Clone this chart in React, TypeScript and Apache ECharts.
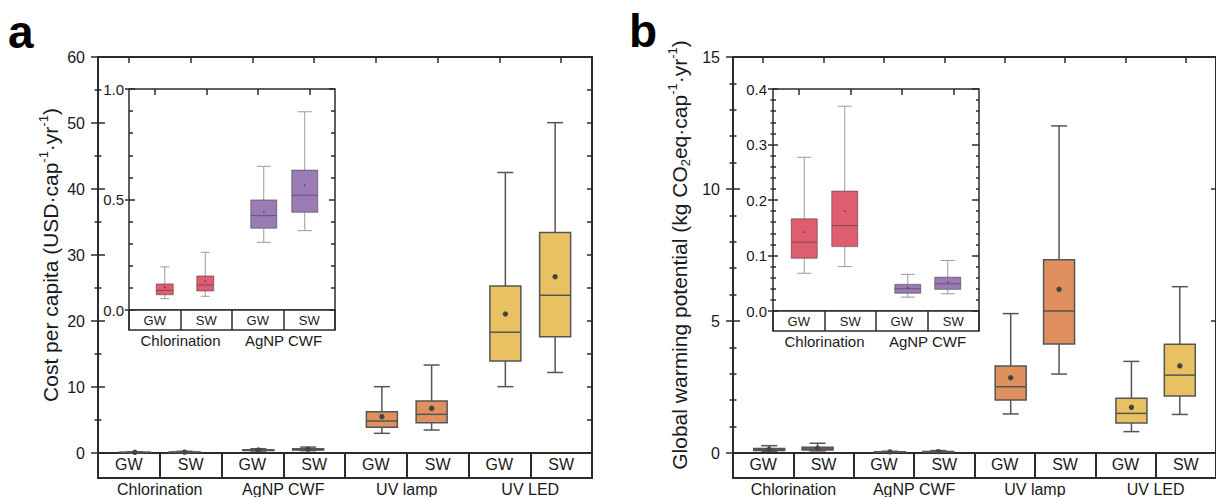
import { useEffect, useRef } from 'react';
import * as echarts from 'echarts';

// ---------- data ----------
const categories = ['GW', 'SW', 'GW', 'SW', 'GW', 'SW', 'GW', 'SW'];
const groups = ['Chlorination', 'AgNP CWF', 'UV lamp', 'UV LED'];
const insetCategories = ['GW', 'SW', 'GW', 'SW'];
const insetGroups = ['Chlorination', 'AgNP CWF'];

// Cost per capita (USD·cap-1·yr-1)
const costMin = [0.051, 0.062, 0.306, 0.359, 2.98, 3.48, 10.05, 12.2];
const costQ1 = [0.069, 0.086, 0.37, 0.442, 3.89, 4.6, 13.94, 17.6];
const costMedian = [0.089, 0.113, 0.427, 0.519, 4.85, 5.86, 18.3, 23.9];
const costQ3 = [0.118, 0.154, 0.498, 0.633, 6.26, 7.88, 25.3, 33.4];
const costMax = [0.195, 0.261, 0.65, 0.897, 10.05, 13.33, 42.5, 50.05];
const costMean = [0.103, 0.13, 0.445, 0.564, 5.5, 6.77, 21.06, 26.7];

// Global warming potential (kg CO2eq·cap-1·yr-1)
const gwpMin = [0.068, 0.08, 0.025, 0.031, 1.48, 2.99, 0.81, 1.46];
const gwpQ1 = [0.095, 0.116, 0.032, 0.039, 2.01, 4.13, 1.14, 2.16];
const gwpMedian = [0.124, 0.154, 0.04, 0.049, 2.51, 5.38, 1.5, 2.95];
const gwpQ3 = [0.166, 0.216, 0.048, 0.061, 3.3, 7.32, 2.07, 4.12];
const gwpMax = [0.277, 0.369, 0.066, 0.091, 5.28, 12.39, 3.47, 6.3];
const gwpMean = [0.142, 0.18, 0.042, 0.052, 2.85, 6.2, 1.73, 3.3];

const costTicks = { max: 60, interval: 10, minorSplit: 2 };
const gwpTicks = { max: 15, interval: 5, minorSplit: 5 };
const costInsetTicks = { max: 1.0, interval: 0.5, minorSplit: 5 };
const gwpInsetTicks = { max: 0.4, interval: 0.1, minorSplit: 5 };

// ---------- style ----------
const FONT = 'Liberation Sans, Arial, Helvetica, sans-serif';
const INK = '#1a1a1a';
const LINE = '#2b2b2b';
const groupColors = ['#DE5D6E', '#9A7BB4', '#E08F5E', '#E8C262'];

type BoxStyle = {
  boxWidth: number[];
  offsets: number[];
  capWidth: number[];
  stroke: string;
  whisker: string;
  lineWidth: number;
  meanR: number;
  meanColor: string;
};

const mainBox: BoxStyle = {
  boxWidth: [31, 31, 31, 31],
  offsets: [6, -6, 6, -6, 6, -6, 6, -6],
  capWidth: [16, 16, 16, 16],
  stroke: '#555555',
  whisker: '#555555',
  lineWidth: 1.5,
  meanR: 2.7,
  meanColor: '#444444',
};
const insetABox: BoxStyle = {
  boxWidth: [17, 26],
  offsets: [10, -1, 6, -4.5],
  capWidth: [9, 14],
  stroke: 'rgba(50,50,50,0.5)',
  whisker: '#9a9a9a',
  lineWidth: 1,
  meanR: 0.8,
  meanColor: 'rgba(40,40,40,0.7)',
};
const insetBBox: BoxStyle = {
  boxWidth: [26, 26],
  offsets: [5.5, -5.5, 6, -5.5],
  capWidth: [14, 14],
  stroke: 'rgba(50,50,50,0.5)',
  whisker: '#9a9a9a',
  lineWidth: 1,
  meanR: 0.8,
  meanColor: 'rgba(40,40,40,0.7)',
};

function makeRender(st: BoxStyle) {
  return (_params: any, api: any) => {
    const cat = api.value(0) as number;
    const g = Math.floor(cat / 2);
    const pMin = api.coord([cat, api.value(1)]);
    const pQ1 = api.coord([cat, api.value(2)]);
    const pMed = api.coord([cat, api.value(3)]);
    const pQ3 = api.coord([cat, api.value(4)]);
    const pMax = api.coord([cat, api.value(5)]);
    const pMean = api.coord([cat, api.value(6)]);
    const x = pMin[0] + st.offsets[cat];
    const hw = st.boxWidth[g] / 2;
    const hc = st.capWidth[g] / 2;
    const ls = { stroke: st.whisker, lineWidth: st.lineWidth };
    return {
      type: 'group',
      children: [
        { type: 'line', shape: { x1: x, y1: pMax[1], x2: x, y2: pQ3[1] }, style: ls },
        { type: 'line', shape: { x1: x, y1: pQ1[1], x2: x, y2: pMin[1] }, style: ls },
        { type: 'line', shape: { x1: x - hc, y1: pMax[1], x2: x + hc, y2: pMax[1] }, style: ls },
        { type: 'line', shape: { x1: x - hc, y1: pMin[1], x2: x + hc, y2: pMin[1] }, style: ls },
        {
          type: 'rect',
          shape: { x: x - hw, y: pQ3[1], width: hw * 2, height: pQ1[1] - pQ3[1] },
          style: { fill: groupColors[g], stroke: st.stroke, lineWidth: st.lineWidth },
        },
        {
          type: 'line',
          shape: { x1: x - hw, y1: pMed[1], x2: x + hw, y2: pMed[1] },
          style: { stroke: st.stroke, lineWidth: st.lineWidth },
        },
        { type: 'circle', shape: { cx: x, cy: pMean[1], r: st.meanR }, style: { fill: st.meanColor } },
      ],
    };
  };
}

type Panel = {
  left: number;
  top: number;
  width: number;
  height: number;
  band: number;
  cats: string[];
  grps: string[];
  ticks: { max: number; interval: number; minorSplit: number };
  rows: number[][];
  box: BoxStyle;
  border: number;
  catFont: number;
  grpFont: number;
  tickFont: number;
  labelMargin: number;
  decimals: number;
  outMajor: number;
  outMinor: number;
  inMajor: number;
  inMinor: number;
  rightMajor: number;
  rightMinor: number;
  rightInterval: number;
  topTick: number;
  name?: string;
  nameGap?: number;
};

function buildPanel(p: Panel, opt: any) {
  const gi = opt.grid.length;
  const lineStyle = { color: LINE, width: 1.5 };
  // plot grid
  opt.grid.push({
    left: p.left, top: p.top, width: p.width, height: p.height,
    show: true, borderColor: LINE, borderWidth: p.border, backgroundColor: '#fff',
  });
  // band grid
  opt.grid.push({
    left: p.left, top: p.top + p.height, width: p.width, height: p.band,
    show: true, borderColor: LINE, borderWidth: p.border, backgroundColor: '#fff',
  });
  const xi = opt.xAxis.length;
  // top axis of plot (used by series)
  opt.xAxis.push({
    type: 'category', gridIndex: gi, data: p.cats, position: 'top',
    axisLine: { show: false, onZero: false },
    axisTick: { show: true, inside: true, alignWithLabel: true, length: p.topTick, lineStyle },
    axisLabel: { show: false }, splitLine: { show: false },
  });
  // band: category labels
  opt.xAxis.push({
    type: 'category', gridIndex: gi + 1, data: p.cats, position: 'bottom',
    axisLine: { show: false, onZero: false }, axisTick: { show: false },
    splitLine: { show: true, interval: 0, lineStyle: { color: LINE, width: p.border } },
    axisLabel: {
      interval: 0, margin: -p.band / 2, verticalAlign: 'middle',
      color: INK, fontSize: p.catFont, fontFamily: FONT,
    },
  });
  // band: group labels
  opt.xAxis.push({
    type: 'category', gridIndex: gi + 1, data: p.grps, position: 'bottom',
    axisLine: { show: false, onZero: false }, axisTick: { show: false }, splitLine: { show: false },
    axisLabel: {
      interval: 0, margin: 3, verticalAlign: 'top',
      color: INK, fontSize: p.grpFont, fontFamily: FONT,
    },
  });
  const yi = opt.yAxis.length;
  const base = { type: 'value', gridIndex: gi, min: 0, max: p.ticks.max, interval: p.ticks.interval, splitLine: { show: false }, axisLine: { show: false, onZero: false } };
  const nameRich = {
    n: { fontSize: 21, fontFamily: FONT, color: INK, lineHeight: 26 },
    sup: { fontSize: 13, fontFamily: FONT, color: INK, lineHeight: 14, verticalAlign: 'top' },
    sub: { fontSize: 13, fontFamily: FONT, color: INK, lineHeight: 14, verticalAlign: 'bottom' },
  };
  opt.yAxis.push({
    ...base, position: 'left',
    axisTick: { show: true, inside: false, length: p.outMajor, lineStyle },
    minorTick: { show: p.outMinor > 0, splitNumber: p.ticks.minorSplit, length: p.outMinor, lineStyle },
    axisLabel: {
      margin: p.labelMargin, color: INK, fontSize: p.tickFont, fontFamily: FONT,
      formatter: (v: number) => v.toFixed(p.decimals),
    },
    name: p.name, nameLocation: 'middle', nameGap: p.nameGap, nameRotate: 90,
    nameTextStyle: { rich: nameRich },
  });
  opt.yAxis.push({
    ...base, position: 'left',
    axisTick: { show: true, inside: true, length: p.inMajor, lineStyle },
    minorTick: { show: true, splitNumber: p.ticks.minorSplit, length: p.inMinor, lineStyle },
    axisLabel: { show: false },
  });
  opt.yAxis.push({
    ...base, position: 'right', interval: p.rightInterval,
    axisTick: { show: true, inside: true, length: p.rightMajor, lineStyle },
    minorTick: { show: p.rightMinor > 0, splitNumber: p.ticks.minorSplit, length: p.rightMinor, lineStyle },
    axisLabel: { show: false },
  });
  // band grid y axis (hidden)
  opt.yAxis.push({ type: 'value', gridIndex: gi + 1, show: false, min: 0, max: 1 });
  opt.series.push({
    type: 'custom', xAxisIndex: xi, yAxisIndex: yi,
    renderItem: makeRender(p.box), clip: false,
    encode: { x: 0, y: [1, 2, 3, 4, 5, 6] },
    data: p.rows,
    z: 5,
  });
}

function rowsFrom(n: number, mn: number[], q1: number[], md: number[], q3: number[], mx: number[], mean: number[]) {
  const out: number[][] = [];
  for (let i = 0; i < n; i++) out.push([i, mn[i], q1[i], md[i], q3[i], mx[i], mean[i]]);
  return out;
}

export default function App() {
  const ref = useRef<HTMLDivElement>(null);
  useEffect(() => {
    if (!ref.current) return;
    const chart = echarts.init(ref.current, undefined, { renderer: 'svg' });
    const opt: any = {
      animation: false,
      backgroundColor: '#fff',
      grid: [], xAxis: [], yAxis: [], series: [],
      graphic: [
        { type: 'text', left: 8, top: 9, style: { text: 'a', font: 'bold 46px ' + FONT, fill: '#000' } },
        { type: 'text', left: 629, top: 8, style: { text: 'b', font: 'bold 46px ' + FONT, fill: '#000' } },
      ],
    };
    const mainCommon = {
      width: 494, height: 396, top: 57, band: 27, cats: categories, grps: groups,
      box: mainBox, border: 2, catFont: 16, grpFont: 16, tickFont: 16, labelMargin: 13,
      decimals: 0, outMajor: 7, outMinor: 3.5, inMajor: 7, inMinor: 3.5,
      rightMajor: 5, rightMinor: 0, rightInterval: 5, topTick: 6,
    };
    buildPanel({
      ...mainCommon, left: 98, ticks: costTicks,
      rows: rowsFrom(8, costMin, costQ1, costMedian, costQ3, costMax, costMean),
      name: '{n|Cost per capita (USD·cap}{sup|-1}{n|·yr}{sup|-1}{n|)}', nameGap: 35,
    }, opt);
    buildPanel({
      left: 129, top: 89, width: 206, height: 221, band: 20, cats: insetCategories, grps: insetGroups,
      ticks: costInsetTicks, rows: rowsFrom(4, costMin, costQ1, costMedian, costQ3, costMax, costMean),
      box: insetABox, border: 1.5, catFont: 13, grpFont: 15, tickFont: 15, labelMargin: 5,
      decimals: 1, outMajor: 4, outMinor: 0, inMajor: 6, inMinor: 4,
      rightMajor: 6, rightMinor: 4, rightInterval: 0.5, topTick: 6,
    }, opt);
    buildPanel({
      ...mainCommon, left: 733, ticks: gwpTicks,
      rows: rowsFrom(8, gwpMin, gwpQ1, gwpMedian, gwpQ3, gwpMax, gwpMean),
      outMinor: 3.5, inMinor: 3.5,
      name: '{n|Global warming potential (kg CO}{sub|2}{n|eq·cap}{sup|-1}{n|·yr}{sup|-1}{n|)}', nameGap: 41,
    }, opt);
    buildPanel({
      left: 773, top: 89, width: 206, height: 222, band: 20, cats: insetCategories, grps: insetGroups,
      ticks: gwpInsetTicks, rows: rowsFrom(4, gwpMin, gwpQ1, gwpMedian, gwpQ3, gwpMax, gwpMean),
      box: insetBBox, border: 1.5, catFont: 13, grpFont: 15, tickFont: 15, labelMargin: 6,
      decimals: 1, outMajor: 5, outMinor: 2.5, inMajor: 5, inMinor: 3,
      rightMajor: 7, rightMinor: 3, rightInterval: 0.1, topTick: 6,
    }, opt);
    chart.setOption(opt);
    return () => chart.dispose();
  }, []);
  return (
    <div style={{ position: 'fixed', left: 0, top: 0, width: 1216, height: 497, overflow: 'hidden', background: '#fff' }}>
      <div ref={ref} style={{ width: 1216, height: 497 }} />
    </div>
  );
}
